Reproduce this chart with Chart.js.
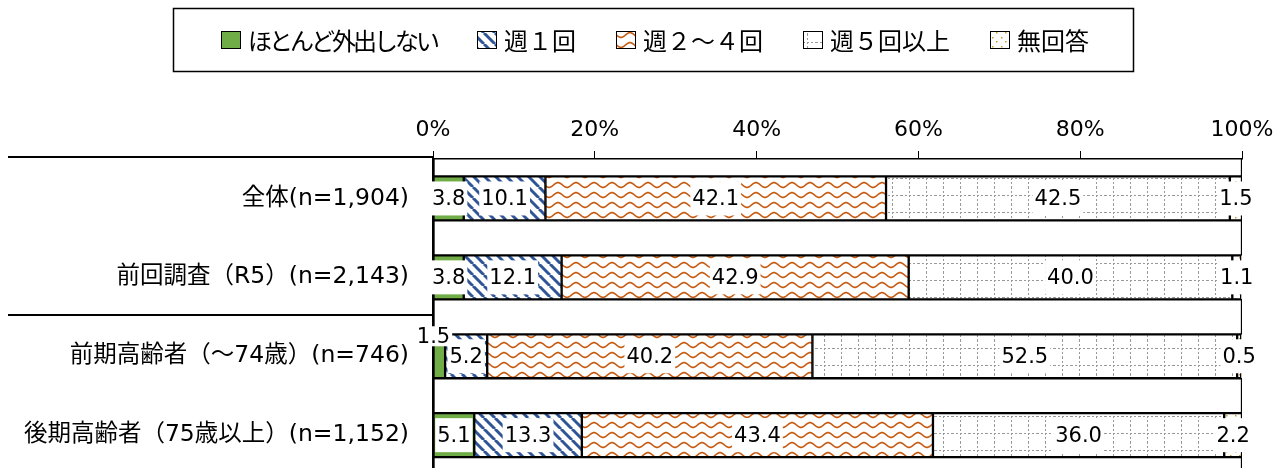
<!DOCTYPE html>
<html>
<head>
<meta charset="utf-8">
<script src="https://cdn.jsdelivr.net/npm/chart.js@4/dist/chart.umd.min.js"></script>
<style>
html, body { margin: 0; padding: 0; background: #fff; }
canvas { display: block; }
</style>
</head>
<body>
<canvas id="chart" width="1285" height="468"></canvas>
<script>
var categories = ["全体(n=1,904)", "前回調査（R5）(n=2,143)", "前期高齢者（～74歳）(n=746)", "後期高齢者（75歳以上）(n=1,152)"];
var seriesNames = ["ほとんど外出しない", "週１回", "週２～４回", "週５回以上", "無回答"];
var hardlyOut = [3.8, 3.8, 1.5, 5.1];
var onceWeek = [10.1, 12.1, 5.2, 13.3];
var twoToFour = [42.1, 42.9, 40.2, 43.4];
var fivePlus = [42.5, 40.0, 52.5, 36.0];
var noAnswer = [1.5, 1.1, 0.5, 2.2];
var xTicks = [0, 20, 40, 60, 80, 100];

var values = [hardlyOut, onceWeek, twoToFour, fivePlus, noAnswer];
var ctx = document.getElementById('chart').getContext('2d');

function makePattern(w, h, draw) {
  var c = document.createElement('canvas');
  c.width = w; c.height = h;
  var g = c.getContext('2d');
  g.fillStyle = '#fff';
  g.fillRect(0, 0, w, h);
  draw(g, w, h);
  return ctx.createPattern(c, 'repeat');
}

var stripes = makePattern(11, 11, function(g, w, h) {
  g.strokeStyle = '#2F5597';
  g.lineWidth = 3;
  [-w, 0, w].forEach(function(o) {
    g.beginPath(); g.moveTo(o, 0); g.lineTo(o + w, h); g.stroke();
  });
});
var wave = makePattern(18, 10, function(g, w, h) {
  g.strokeStyle = '#C55A11';
  g.lineWidth = 1.6;
  g.beginPath();
  for (var x = -1; x <= w + 1; x += 0.5) {
    var y = h / 2 - 2.4 * Math.cos(2 * Math.PI * x / w);
    if (x === -1) g.moveTo(x, y); else g.lineTo(x, y);
  }
  g.stroke();
});
var dotGrid = makePattern(17, 17, function(g) {
  g.fillStyle = '#999';
  for (var i = 0; i < 17; i += 4) {
    g.fillRect(8, i, 1, 2);
    g.fillRect(i, 8, 2, 1);
  }
});
var goldDots = makePattern(9, 9, function(g) {
  g.fillStyle = '#C9A227';
  g.fillRect(2, 1, 1.5, 1.5);
  g.fillRect(6, 5, 1.5, 1.5);
});
var fills = ['#70AD47', stripes, wave, dotGrid, goldDots];

var datasets = values.map(function(v, k) {
  return {
    label: seriesNames[k],
    data: v.map(function(x, i) { return {x: x, y: i}; }),
    backgroundColor: fills[k],
    borderColor: '#000',
    borderWidth: 1.5,
    borderSkipped: false,
    barThickness: 44,
    stack: 'main'
  };
});
// white rows between the bars
var gapRows = categories.map(function(c, i) { return i - 0.5; }).concat([categories.length - 0.5]);
datasets.push({
  label: '',
  isBlank: true,
  data: gapRows.map(function(p) { return {x: 100, y: p}; }),
  backgroundColor: '#fff',
  borderColor: '#000',
  borderWidth: 1.5,
  borderSkipped: false,
  barThickness: 35,
  grouped: false,
  stack: 'blank',
  order: 1,
  clip: 0
});

var barLabels = {
  id: 'barLabels',
  afterDatasetsDraw: function(chart) {
    var c = chart.ctx;
    c.save();
    c.font = '21px "DejaVu Sans"';
    c.textAlign = 'center';
    c.textBaseline = 'middle';
    chart.data.datasets.forEach(function(ds, k) {
      if (ds.isBlank) return;
      chart.getDatasetMeta(k).data.forEach(function(bar, i) {
        var p = bar.getProps(['x', 'y', 'base', 'height'], true);
        var txt = values[k][i].toFixed(1);
        var tw = c.measureText(txt).width;
        var left = Math.min(p.x, p.base), w = Math.abs(p.x - p.base);
        var cx = left + w / 2, cy = p.y, bh = 34;
        if (k === 0 && w * 2 < tw) {
          cx = left; cy = p.y - p.height / 2 + 2; bh = 20;
        }
        c.fillStyle = '#fff';
        c.fillRect(cx - tw / 2 - 2, cy - bh / 2, tw + 4, bh);
        c.fillStyle = '#000';
        c.fillText(txt, cx, cy + 1);
      });
    });
    c.restore();
  }
};

var boxLegend = {
  id: 'boxLegend',
  afterDraw: function(chart) {
    var c = chart.ctx;
    c.save();
    c.font = '24px "Noto Sans CJK JP"';
    var items = seriesNames.map(function(n, k) {
      // kana run narrower in the original font, so tighten those
      var spacing = /[\u3041-\u3096]/.test(n) ? -3 : 0;
      c.letterSpacing = spacing + 'px';
      return {text: n, fill: fills[k], spacing: spacing, w: 27 + c.measureText(n).width};
    });
    var gap = 40;
    var total = gap * (items.length - 1);
    items.forEach(function(it) { total += it.w; });
    var x = 655 - total / 2, cy = 40;
    c.strokeStyle = '#000';
    c.lineWidth = 1.5;
    c.strokeRect(173.5, 8.5, 960, 63);
    c.textBaseline = 'middle';
    items.forEach(function(it) {
      c.fillStyle = it.fill;
      c.fillRect(x, cy - 9, 20, 18);
      c.lineWidth = 1;
      c.strokeRect(x + 0.5, cy - 8.5, 19, 17);
      c.fillStyle = '#000';
      c.letterSpacing = it.spacing + 'px';
      c.fillText(it.text, x + 27, cy + 1);
      x += it.w + gap;
    });
    c.restore();
  }
};

var groupLines = {
  id: 'groupLines',
  afterDraw: function(chart) {
    var c = chart.ctx, y = chart.scales.y;
    c.save();
    c.strokeStyle = '#000';
    c.lineWidth = 2;
    [-0.5, 1.5].forEach(function(v) {
      var py = Math.round(y.getPixelForValue(v)) - 2;
      c.beginPath();
      c.moveTo(8, py);
      c.lineTo(chart.chartArea.left, py);
      c.stroke();
    });
    c.restore();
  }
};

var chart = new Chart(ctx, {
  type: 'bar',
  data: { datasets: datasets },
  plugins: [barLabels, boxLegend, groupLines],
  options: {
    indexAxis: 'y',
    responsive: false,
    animation: false,
    devicePixelRatio: 1,
    layout: { padding: { left: 0, right: 43, top: 0, bottom: 0 } },
    plugins: { legend: { display: false }, tooltip: { enabled: false } },
    scales: {
      x: {
        type: 'linear',
        position: 'top',
        min: 0,
        max: 100,
        stacked: true,
        afterBuildTicks: function(s) { s.ticks = xTicks.map(function(v) { return {value: v}; }); },
        afterFit: function(s) { s.height = 159; },
        ticks: {
          color: '#000',
          padding: 8,
          font: { family: '"DejaVu Sans"', size: 22 },
          callback: function(v) { return v + '%'; }
        },
        grid: { drawOnChartArea: false, color: '#000', tickLength: 8, lineWidth: 1 },
        border: { display: true, color: '#000', width: 1.5, z: 1 }
      },
      y: {
        type: 'linear',
        reverse: true,
        stacked: true,
        offset: false,
        min: -0.5,
        max: 3.416,
        afterBuildTicks: function(s) { s.ticks = categories.map(function(c, i) { return {value: i}; }); },
        afterFit: function(s) { s.width = 433; s.paddingTop = 0; s.paddingBottom = 0; },
        ticks: {
          color: '#000',
          padding: 24,
          font: { family: '"DejaVu Sans", "Noto Sans CJK JP"', size: 23.5 },
          callback: function(v, i) { return categories[i]; }
        },
        grid: { display: false, drawTicks: false, offset: false },
        border: { display: true, color: '#000', width: 2 }
      }
    }
  }
});
</script>
</body>
</html>
